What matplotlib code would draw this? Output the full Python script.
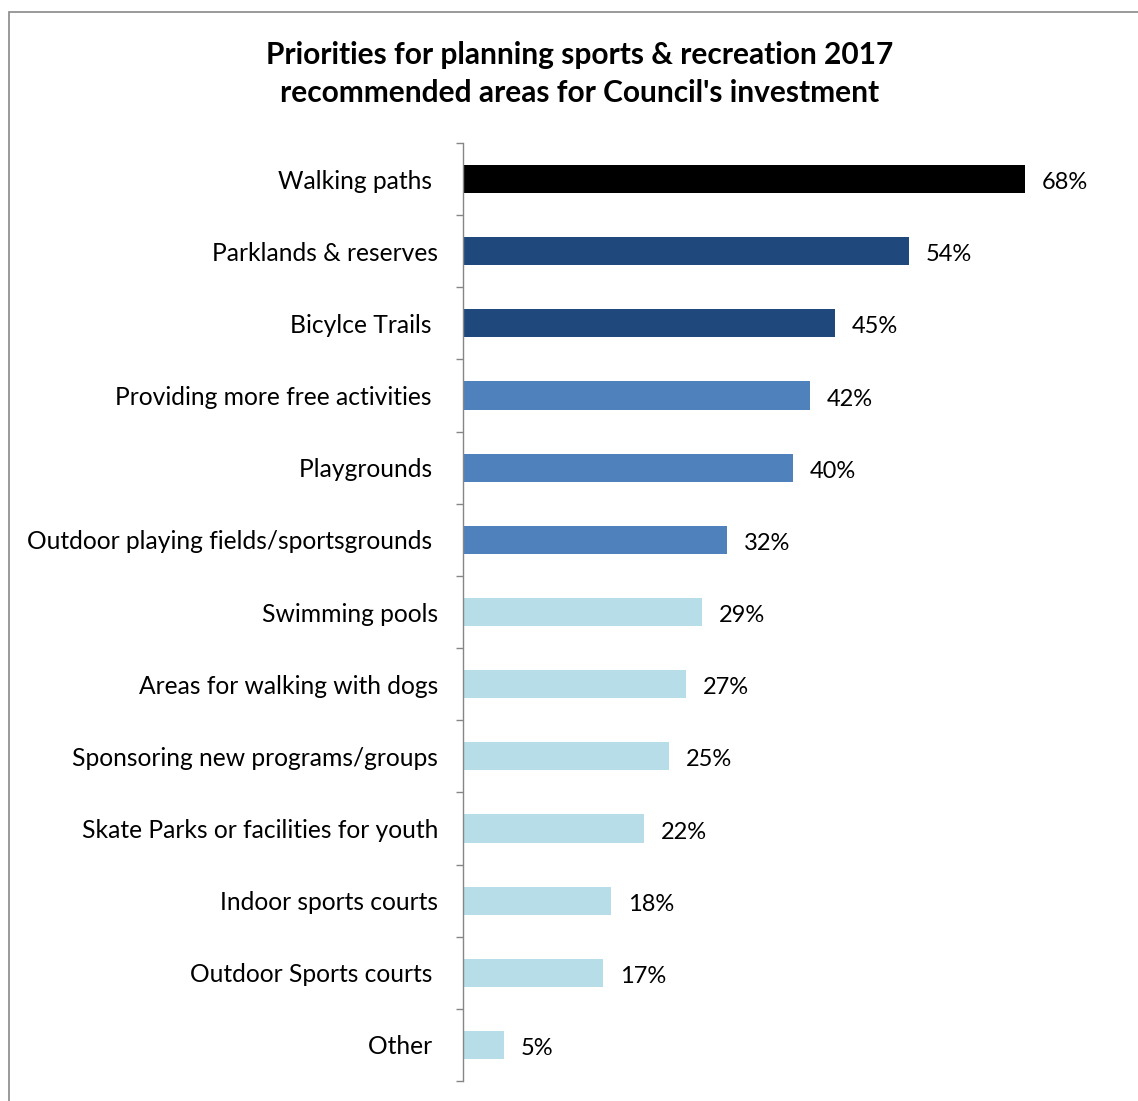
import numpy as np
import matplotlib.pyplot as plt
from matplotlib.patches import Rectangle

# survey results, top to bottom
categories = [
    "Walking paths ", "Parklands & reserves", "Bicylce Trails ",
    "Providing more free activities ", "Playgrounds ",
    "Outdoor playing fields/sportsgrounds ", "Swimming pools",
    "Areas for walking with dogs", "Sponsoring new programs/groups",
    "Skate Parks or facilities for youth", "Indoor sports courts",
    "Outdoor Sports courts ", "Other ",
]
values = [68, 54, 45, 42, 40, 32, 29, 27, 25, 22, 18, 17, 5]
bar_colors = ["#000000", "#1F497D", "#1F497D",
              "#4F81BD", "#4F81BD", "#4F81BD",
              "#B7DEE8", "#B7DEE8", "#B7DEE8", "#B7DEE8",
              "#B7DEE8", "#B7DEE8", "#B7DEE8"]

title = "Priorities for planning sports & recreation 2017\nrecommended areas for Council's investment"

plt.rcParams['font.family'] = ['Lato', 'DejaVu Sans']

W, H = 1138, 1101
fig = plt.figure(figsize=(W / 100, H / 100), dpi=100)

# outer chart frame, open to the right and bottom
fig.patches.append(Rectangle((9 / W, -0.05), 1.2, (H - 12) / H + 0.05,
                             transform=fig.transFigure, fill=False,
                             edgecolor="#898989", linewidth=1.2))

ax = fig.add_axes([462.5 / W, 20 / H, (W - 462.5) / W, 938 / H])
y = np.arange(len(categories))
ax.barh(y, values, height=0.39, color=bar_colors)
ax.set_ylim(len(categories) - 0.5, -0.5)
ax.set_xlim(0, 81.7)

for yi, v in zip(y, values):
    ax.text(v + 2.05, yi + 0.05, f"{v}%", va="center", ha="left", fontsize=17)

ax.set_yticks(y)
ax.set_yticklabels(categories, fontsize=17.7)
ax.set_yticks(np.arange(len(categories) + 1) - 0.5, minor=True)
ax.tick_params(axis="y", which="major", length=0, pad=17.5)
ax.tick_params(axis="y", which="minor", length=5, width=1, color="#868686")
ax.set_xticks([])

for side in ["top", "right", "bottom"]:
    ax.spines[side].set_visible(False)
ax.spines["left"].set_color("#868686")
ax.spines["left"].set_linewidth(1)

fig.text(580 / W, 1 - 74 / H, title, ha="center", va="center",
         fontsize=21.5, fontweight="bold", linespacing=1.43)

fig.savefig("out.png", dpi=100)
